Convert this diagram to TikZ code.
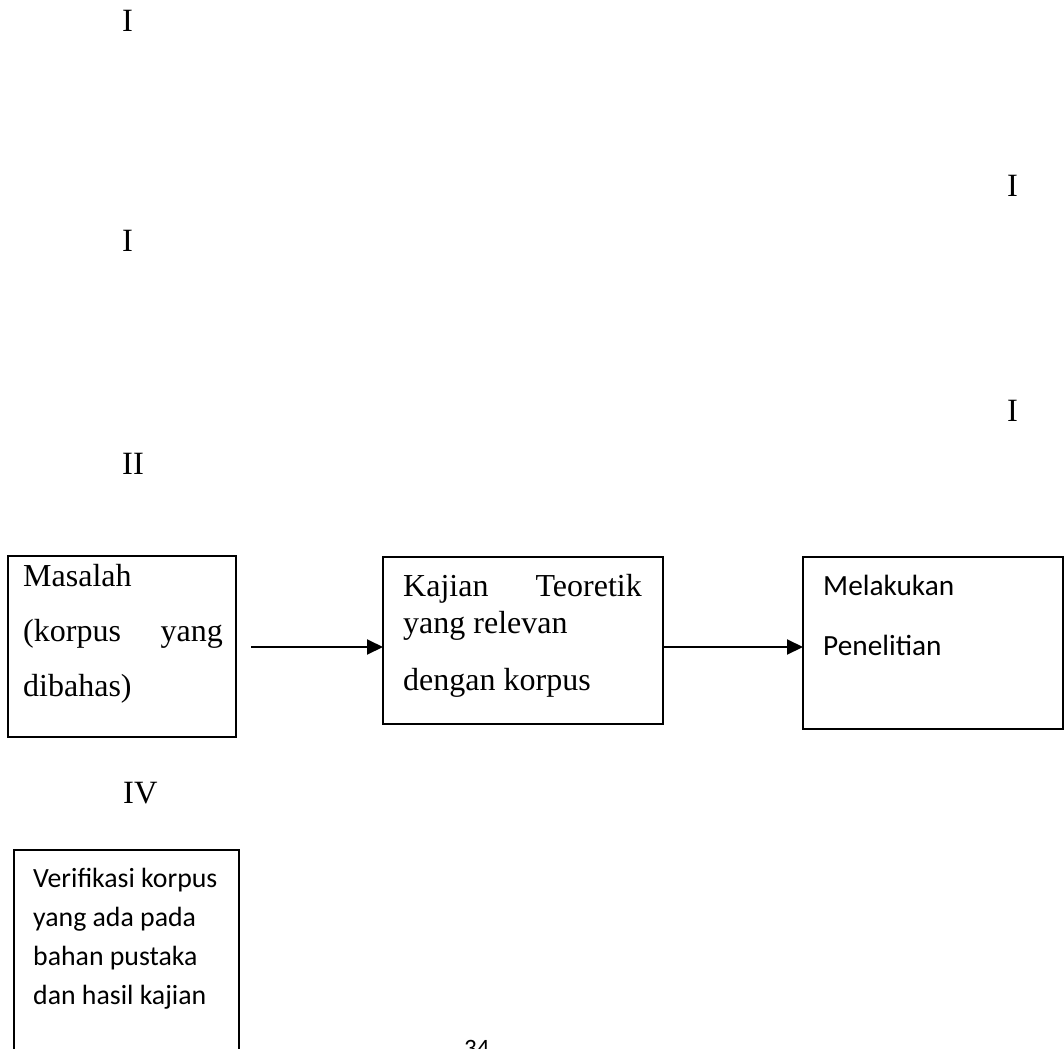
\documentclass[tikz,border=0pt]{standalone}
\usepackage{fontspec}
\setmainfont{Liberation Serif}
\newfontfamily\calfont{Carlito}
\usetikzlibrary{arrows.meta}
\begin{document}
\begin{tikzpicture}[x=1pt,y=-1pt,
  serif/.style={font=\fontsize{32}{32}\selectfont, inner sep=0pt},
  roman/.style={font=\fontsize{32.5}{32.5}\selectfont, inner sep=0pt, anchor=base west},
  sansA/.style={font=\calfont\fontsize{29.3}{29.3}\selectfont, inner sep=0pt, anchor=base west},
  sansB/.style={font=\calfont\fontsize{27.8}{27.8}\selectfont, inner sep=0pt, anchor=base west},
  box/.style={draw, line width=1.3pt, inner sep=0pt, outer sep=0pt, anchor=north west},
  arr/.style={line width=2pt, -{Triangle[length=16pt,width=15pt]}}]
\useasboundingbox[fill=white] (0,0) rectangle (1064,1048);

% roman numerals
\node[roman] (r1) at (122,32) {I};
\node[roman] (r2) at (122,252) {I};
\node[roman] (r3) at (122,474) {II};
\node[roman] (r4) at (123,803) {IV};
\node[roman] (r5) at (1007,197) {I};
\node[roman] (r6) at (1007,421) {I};

% boxes
\node[box, line width=2pt, minimum width=228, minimum height=181] (b1) at (8,556) {};
\node[box, minimum width=280, minimum height=167] (b2) at (383,557) {};
\node[box, minimum width=260, minimum height=172] (b3) at (803,557) {};
\node[box, minimum width=225, minimum height=240] (b4) at (14,850) {};

% box 1 text
\node[serif, anchor=base west] (t1a) at (23,586) {Masalah};
\node[serif, anchor=base west] (t1b) at (23,641) {(korpus};
\node[serif, anchor=base east] (t1c) at (223,641) {yang};
\node[serif, anchor=base west] (t1d) at (23,696) {dibahas)};

% box 2 text
\node[serif, anchor=base west] (t2a) at (403,596) {Kajian};
\node[serif, anchor=base east] (t2b) at (642,596) {Teoretik};
\node[serif, anchor=base west] (t2c) at (403,633) {yang relevan};
\node[serif, anchor=base west] (t2d) at (403,690) {dengan korpus};

% box 3 text
\node[sansA] (t3a) at (823,595) {Melakukan};
\node[sansA] (t3b) at (823,655) {Penelitian};

% box 4 text
\node[sansB] (t4a) at (33,887) {Verifikasi korpus};
\node[sansB] (t4b) at (33,926) {yang ada pada};
\node[sansB] (t4c) at (33,965) {bahan pustaka};
\node[sansB] (t4d) at (33,1004) {dan hasil kajian};

% page number (cut by the page edge, as in the reference)
\node[font=\calfont\fontsize{25}{25}\selectfont, inner sep=0pt, anchor=base west] (pg) at (464,1056) {34};

% arrows
\coordinate (a1s) at (251,647);
\draw[arr] (a1s) -- (a1s -| b2.west);
\draw[arr] (b2.east |- a1s) -- (b3.west |- a1s);
\end{tikzpicture}
\end{document}
